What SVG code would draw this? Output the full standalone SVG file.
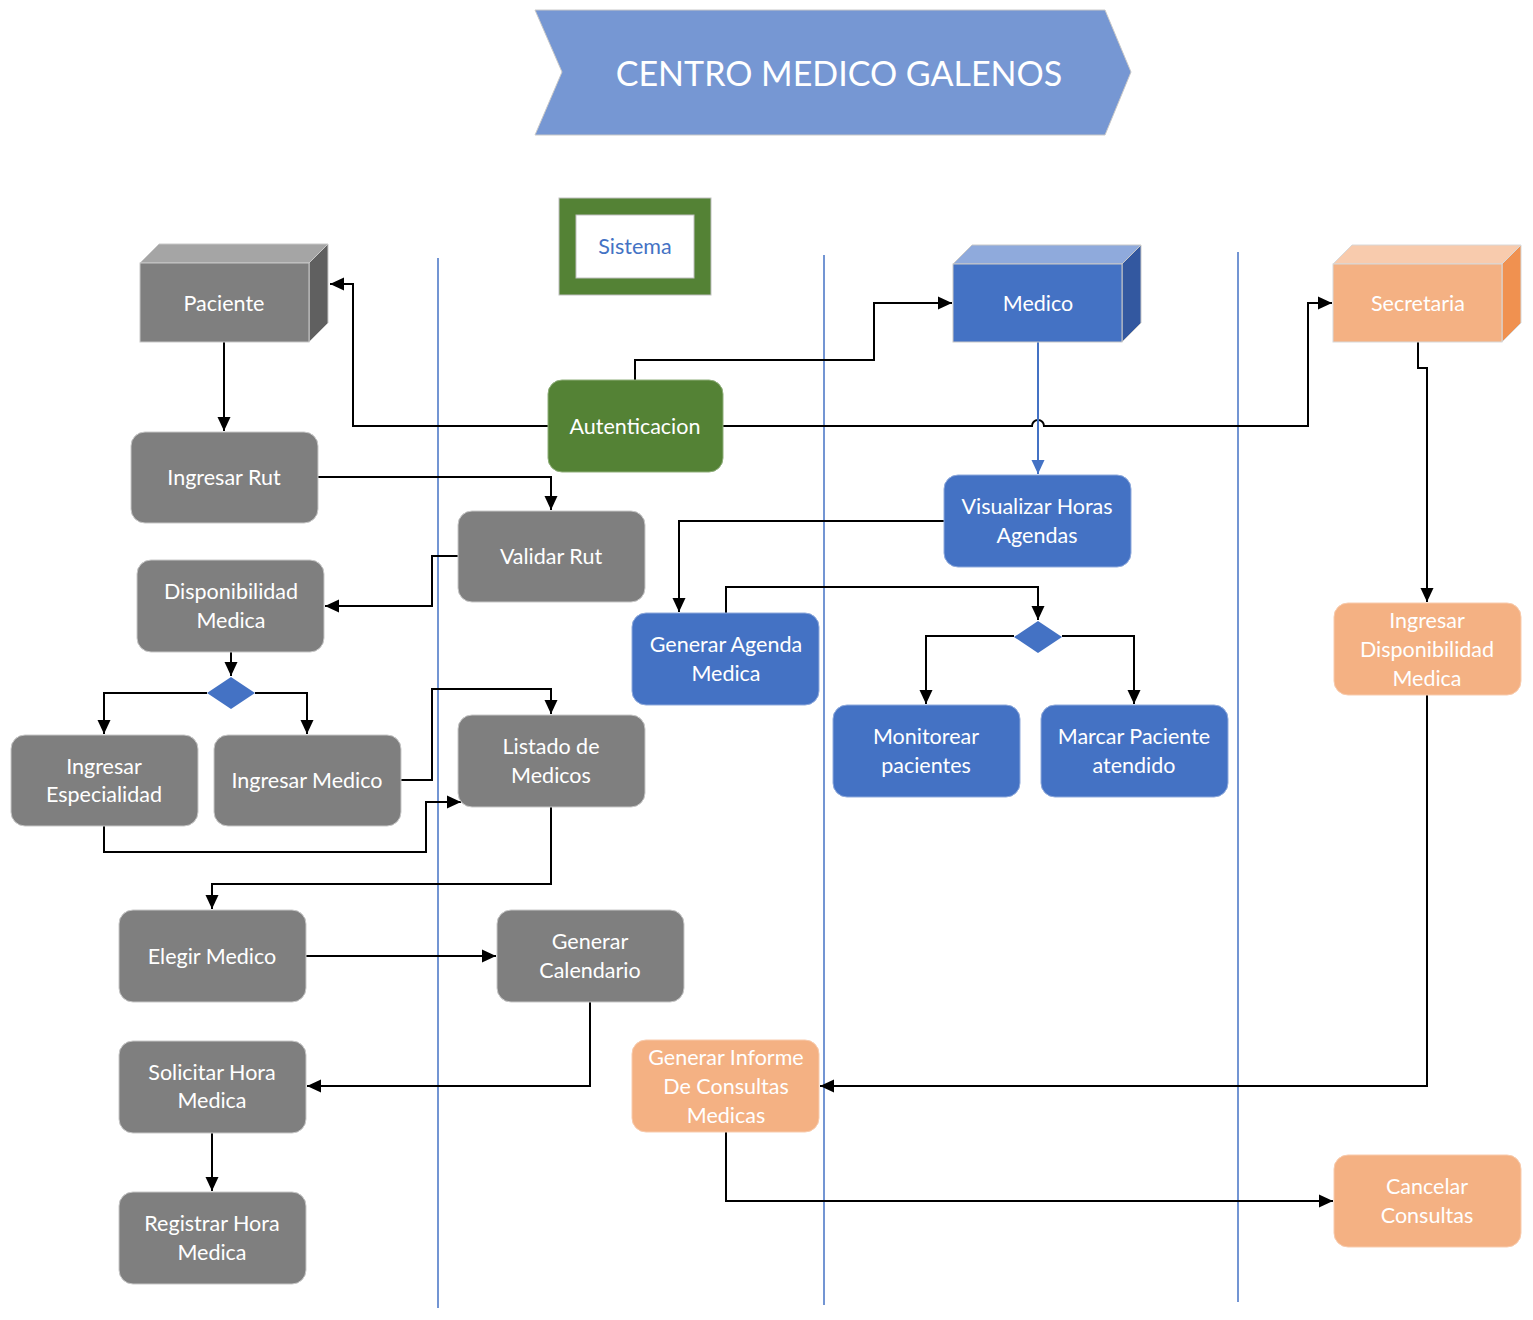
<svg xmlns="http://www.w3.org/2000/svg" width="1533" height="1320" viewBox="0 0 1533 1320">
<style>
text{font-family:Lato,"Liberation Sans",sans-serif;font-size:21.5px;fill:#fff;text-anchor:middle;dominant-baseline:central}
.g{fill:#7F7F7F;stroke:#C8C8C8;stroke-width:1}
.b{fill:#4472C4;stroke:#8FAADC;stroke-width:1}
.o{fill:#F4B183;stroke:#F8CBAD;stroke-width:1}
.gr{fill:#548235;stroke:#8FAE7A;stroke-width:1}
.lane{stroke:#4472C4;stroke-width:1.5}
.c{fill:none;stroke:#000;stroke-width:2}
</style>
<defs>
<marker id="ar" markerUnits="userSpaceOnUse" markerWidth="16" markerHeight="16" viewBox="0 0 16 16" refX="14" refY="8" orient="auto">
<path d="M0,1.5 L14,8 L0,14.5 Z" fill="#000"/>
</marker>
<marker id="arb" markerUnits="userSpaceOnUse" markerWidth="16" markerHeight="16" viewBox="0 0 16 16" refX="14" refY="8" orient="auto">
<path d="M0,1.5 L14,8 L0,14.5 Z" fill="#4472C4"/>
</marker>
</defs>
<rect width="1533" height="1320" fill="#fff"/>

<g id="title">
<polygon points="535,10 1105,10 1131,72 1105,135 535,135 562,72" fill="#7697D3" stroke="#C8C8C8" stroke-width="1"/>
<text x="839" y="72" style="font-size:34px">CENTRO MEDICO GALENOS</text>
</g>

<g id="lanes">
<line class="lane" x1="438" y1="258" x2="438" y2="1308"/>
<line class="lane" x1="824" y1="255" x2="824" y2="1305"/>
<line class="lane" x1="1238" y1="252" x2="1238" y2="1302"/>
</g>

<g id="sistema">
<rect x="559" y="198" width="152" height="97" fill="#548235" stroke="#BFBFBF" stroke-width="1"/>
<rect x="576" y="215" width="118" height="63" fill="#fff" stroke="#BFBFBF" stroke-width="1"/>
<text x="635" y="246" style="fill:#4472C4">Sistema</text>
</g>

<g id="connectors">
<path class="c" d="M224,342 V431" marker-end="url(#ar)"/>
<path class="c" d="M548,426 H353 V284 H330" marker-end="url(#ar)"/>
<path class="c" d="M635,380 V360 H874 V303 H952" marker-end="url(#ar)"/>
<path class="c" d="M723,426 H1032 A6,6 0 0 1 1044,426 H1308 V303 H1332" marker-end="url(#ar)"/>
<path d="M1038,342 V474" fill="none" stroke="#4472C4" stroke-width="2" marker-end="url(#arb)"/>
<path class="c" d="M318,477 H551 V510" marker-end="url(#ar)"/>
<path class="c" d="M458,556 H432 V606 H325" marker-end="url(#ar)"/>
<path class="c" d="M231,652 V676" marker-end="url(#ar)"/>
<path class="c" d="M207,693 H104 V734" marker-end="url(#ar)"/>
<path class="c" d="M255,693 H307 V734" marker-end="url(#ar)"/>
<path class="c" d="M401,780 H432 V689 H551 V714" marker-end="url(#ar)"/>
<path class="c" d="M104,826 V852 H426 V802 H461" marker-end="url(#ar)"/>
<path class="c" d="M551,807 V884 H212 V909" marker-end="url(#ar)"/>
<path class="c" d="M306,956 H496" marker-end="url(#ar)"/>
<path class="c" d="M590,1002 V1086 H307" marker-end="url(#ar)"/>
<path class="c" d="M212,1133 V1191" marker-end="url(#ar)"/>
<path class="c" d="M944,521 H679 V612" marker-end="url(#ar)"/>
<path class="c" d="M726,613 V587 H1038 V620" marker-end="url(#ar)"/>
<path class="c" d="M1014,636 H926 V704" marker-end="url(#ar)"/>
<path class="c" d="M1062,636 H1134 V704" marker-end="url(#ar)"/>
<path class="c" d="M1418,342 V368 H1427 V602" marker-end="url(#ar)"/>
<path class="c" d="M1427,695 V1086 H820" marker-end="url(#ar)"/>
<path class="c" d="M726,1132 V1201 H1333" marker-end="url(#ar)"/>
</g>

<g id="paciente">
<polygon points="140,263 159,244 328,244 309,263" fill="#A5A5A5" stroke="#C8C8C8" stroke-width="1"/>
<polygon points="309,263 328,244 328,323 309,342" fill="#606060" stroke="#C8C8C8" stroke-width="1"/>
<rect x="140" y="263" width="169" height="79" fill="#7F7F7F" stroke="#C8C8C8" stroke-width="1"/>
<text x="224" y="303">Paciente</text>
</g>

<g id="medico">
<polygon points="953,264 972,245 1141,245 1122,264" fill="#8FAADC" stroke="#C8C8C8" stroke-width="1"/>
<polygon points="1122,264 1141,245 1141,323 1122,342" fill="#3358A0" stroke="#C8C8C8" stroke-width="1"/>
<rect x="953" y="264" width="169" height="78" fill="#4472C4" stroke="#C8C8C8" stroke-width="1"/>
<text x="1038" y="303">Medico</text>
</g>

<g id="secretaria">
<polygon points="1333,264 1352,245 1521,245 1502,264" fill="#F8CBAD" stroke="#D8D8D8" stroke-width="1"/>
<polygon points="1502,264 1521,245 1521,323 1502,342" fill="#F09150" stroke="#D8D8D8" stroke-width="1"/>
<rect x="1333" y="264" width="169" height="78" fill="#F4B183" stroke="#D8D8D8" stroke-width="1"/>
<text x="1418" y="303">Secretaria</text>
</g>

<g id="autenticacion"><rect class="gr" x="548" y="380" width="175" height="92" rx="14"/><text x="635" y="426">Autenticacion</text></g>
<g id="ingresar-rut"><rect class="g" x="131" y="432" width="187" height="91" rx="14"/><text x="224" y="477">Ingresar Rut</text></g>
<g id="validar-rut"><rect class="g" x="458" y="511" width="187" height="91" rx="14"/><text x="551" y="556">Validar Rut</text></g>
<g id="disponibilidad-medica"><rect class="g" x="137" y="560" width="187" height="92" rx="14"/><text x="231" y="591">Disponibilidad</text><text x="231" y="620">Medica</text></g>
<g id="decision-1"><polygon points="231,677 255,693 231,709 207,693" fill="#4472C4"/></g>
<g id="ingresar-especialidad"><rect class="g" x="11" y="735" width="187" height="91" rx="14"/><text x="104" y="766">Ingresar</text><text x="104" y="794">Especialidad</text></g>
<g id="ingresar-medico"><rect class="g" x="214" y="735" width="187" height="91" rx="14"/><text x="307" y="780">Ingresar Medico</text></g>
<g id="listado-medicos"><rect class="g" x="458" y="715" width="187" height="92" rx="14"/><text x="551" y="746">Listado de</text><text x="551" y="775">Medicos</text></g>
<g id="elegir-medico"><rect class="g" x="119" y="910" width="187" height="92" rx="14"/><text x="212" y="956">Elegir Medico</text></g>
<g id="generar-calendario"><rect class="g" x="497" y="910" width="187" height="92" rx="14"/><text x="590" y="941">Generar</text><text x="590" y="970">Calendario</text></g>
<g id="solicitar-hora"><rect class="g" x="119" y="1041" width="187" height="92" rx="14"/><text x="212" y="1072">Solicitar Hora</text><text x="212" y="1100">Medica</text></g>
<g id="registrar-hora"><rect class="g" x="119" y="1192" width="187" height="92" rx="14"/><text x="212" y="1223">Registrar Hora</text><text x="212" y="1252">Medica</text></g>

<g id="visualizar-horas"><rect class="b" x="944" y="475" width="187" height="92" rx="14"/><text x="1037" y="506">Visualizar Horas</text><text x="1037" y="535">Agendas</text></g>
<g id="generar-agenda"><rect class="b" x="632" y="613" width="187" height="92" rx="14"/><text x="726" y="644">Generar Agenda</text><text x="726" y="673">Medica</text></g>
<g id="decision-2"><polygon points="1038,621 1062,637 1038,653 1014,637" fill="#4472C4"/></g>
<g id="monitorear"><rect class="b" x="833" y="705" width="187" height="92" rx="14"/><text x="926" y="736">Monitorear</text><text x="926" y="765">pacientes</text></g>
<g id="marcar-paciente"><rect class="b" x="1041" y="705" width="187" height="92" rx="14"/><text x="1134" y="736">Marcar Paciente</text><text x="1134" y="765">atendido</text></g>

<g id="ingresar-disponibilidad"><rect class="o" x="1334" y="603" width="187" height="92" rx="14"/><text x="1427" y="620">Ingresar</text><text x="1427" y="649">Disponibilidad</text><text x="1427" y="678">Medica</text></g>
<g id="generar-informe"><rect class="o" x="632" y="1040" width="187" height="92" rx="14"/><text x="726" y="1057">Generar Informe</text><text x="726" y="1086">De Consultas</text><text x="726" y="1115">Medicas</text></g>
<g id="cancelar-consultas"><rect class="o" x="1334" y="1155" width="187" height="92" rx="14"/><text x="1427" y="1186">Cancelar</text><text x="1427" y="1215">Consultas</text></g>
</svg>
